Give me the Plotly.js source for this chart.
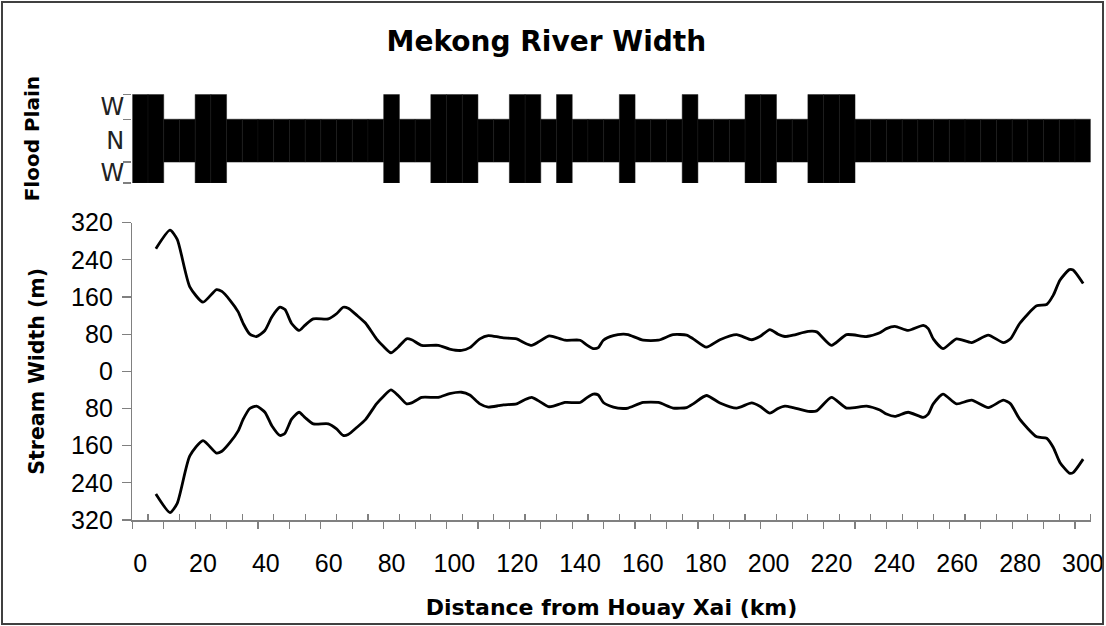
<!DOCTYPE html>
<html><head><meta charset="utf-8">
<script src="https://cdn.plot.ly/plotly-3.0.1.min.js"></script>
<style>
html,body{margin:0;padding:0;background:#fff;}
#wrap{position:relative;width:1106px;height:626px;}
#chart{width:1106px;height:626px;}
#frame{position:absolute;left:1px;top:1px;width:1099px;height:620px;border:2px solid #404040;pointer-events:none;}
</style>
</head><body>
<div id="wrap"><div id="chart"></div><div id="frame"></div></div>
<script>
// Stream width profile (m) along distance from Houay Xai (km)
const distanceKm = [5, 9.5, 11.8, 15.8, 20, 24.3, 26, 28.6, 31.2, 32.8, 34.9, 37, 39.7, 41.9, 44.5,
  46.1, 48.2, 50.6, 52.4, 55.1, 59.9, 62.5, 64.6, 66.2, 68.9, 71.7, 75.2, 77.4, 79.8, 82.1,
  84.8, 86.4, 89.6, 94.9, 98.5, 102.3, 104.9, 108.1, 110.8, 114, 115.6, 119.8, 122.4, 124.6, 126.7,
  129.9, 131.5, 135.2, 140, 142.1, 144.2, 145.8, 147.4, 150.6, 153.7, 155.3, 160.1, 164.9, 169.6, 173.9,
  176, 180.2, 184.5, 189.8, 194.6, 197.2, 200.4, 203, 205.2, 207.8, 212.6, 215.3, 220, 224.8, 231.2,
  235.4, 237.5, 240.2, 244.4, 249.2, 250.8, 252.4, 255.5, 259.8, 264.6, 269.9, 274.7, 277, 279.9, 285.3,
  288.5, 290.6, 292.7, 295.7, 296.9, 300.1];
const streamWidth = [264, 304, 284, 182, 149, 176, 172, 153, 128, 103, 80, 75, 88, 117, 138,
  133, 103, 88, 99, 113, 113, 124, 138, 136, 121, 104, 70, 54, 40, 52,
  70, 68, 56, 56, 48, 45, 51, 70, 77, 74, 72, 70, 61, 56, 63,
  76, 75, 67, 67, 57, 49, 51, 67, 77, 80, 79, 67, 67, 79, 78,
  70, 52, 68, 79, 68, 75, 90, 80, 75, 78, 86, 85, 56, 79, 75,
  83, 92, 97, 88, 99, 92, 70, 49, 70, 62, 78, 62, 70, 103, 141,
  144, 164, 196, 219, 218, 189];

// Flood plain class per 5-km reach: W = wide, N = narrow
const floodKm = [0, 5, 10, 15, 20, 25, 30, 35, 40, 45, 50, 55, 60, 65, 70, 75, 80, 85, 90, 95,
  100, 105, 110, 115, 120, 125, 130, 135, 140, 145, 150, 155, 160, 165, 170, 175, 180, 185, 190, 195,
  200, 205, 210, 215, 220, 225, 230, 235, 240, 245, 250, 255, 260, 265, 270, 275, 280, 285, 290, 295, 300];
const floodClass = ['W','W','N','N','W','W','N','N','N','N','N','N','N','N','N','N','W','N','N','W',
  'W','W','N','N','W','W','N','W','N','N','N','W','N','N','N','W','N','N','N','W',
  'W','N','N','W','W','W','N','N','N','N','N','N','N','N','N','N','N','N','N','N','N'];
const floodBandLabels = ['W', 'N', 'W'];

const xTickVals = [0, 20, 40, 60, 80, 100, 120, 140, 160, 180, 200, 220, 240, 260, 280, 300];
const xTickText = ['0','20','40','60','80','100','120','140','160','180','200','220','240','260','280','300'];
const yTickVals = [-320, -240, -160, -80, 0, 80, 160, 240, 320];
const yTickText = ['320','240','160','80','0','80','160','240','320'];

// ---- layout helpers (positions/styles) ----
const FONT = 'Liberation Sans, Arial, Helvetica, sans-serif';
const WIDE = 'DejaVu Sans, Verdana, sans-serif';
const W = 1106, H = 626;
const xDom = [132.3 / W, 1090.7 / W];
const mainDom = [(H - 520) / H, (H - 222.7) / H];
const stripDom = [(H - 183) / H, (H - 94.3) / H];
const xRange = [-2.5, 302.5];
const bandEdges = [0, 21, 64, 89];
const bandCenters = [10.5, 42.5, 76.5];
const majorTicks = [], minorTicks = [];
for (let v = -2.5; v <= 302.6; v += 10) majorTicks.push(v);
for (let v = 2.5; v <= 302.6; v += 10) minorTicks.push(v);

const floodTrace = {
  type: 'bar', x: floodKm, xaxis: 'x', yaxis: 'y2',
  y: floodClass.map(c => c === 'W' ? bandEdges[3] - bandEdges[0] : bandEdges[2] - bandEdges[1]),
  base: floodClass.map(c => c === 'W' ? bandEdges[0] : bandEdges[1]),
  width: 5,
  marker: {color: '#000000', line: {color: '#151515', width: 0.5}},
  hoverinfo: 'skip', showlegend: false
};
const upper = {
  type: 'scatter', mode: 'lines', x: distanceKm, y: streamWidth,
  xaxis: 'x', yaxis: 'y',
  line: {color: '#000', width: 2.8, shape: 'spline', smoothing: 0.6},
  showlegend: false
};
const lower = {
  type: 'scatter', mode: 'lines', x: distanceKm, y: streamWidth.map(v => -v),
  xaxis: 'x', yaxis: 'y',
  line: {color: '#000', width: 2.8, shape: 'spline', smoothing: 0.6},
  showlegend: false
};

const axisGray = '#808080';
const layout = {
  width: W, height: H,
  margin: {l: 0, r: 0, t: 0, b: 0, autoexpand: false},
  paper_bgcolor: '#fff', plot_bgcolor: 'rgba(0,0,0,0)',
  font: {family: FONT, color: '#000'},
  showlegend: false,
  bargap: 0,
  title: {text: '<b>Mekong River Width</b>', font: {family: WIDE, size: 28, color: '#000'},
    x: 0.494, xanchor: 'center', y: 1 - 41 / H, yanchor: 'middle', yref: 'container'},
  xaxis: {
    domain: xDom, range: xRange, anchor: 'y',
    tickmode: 'array', tickvals: xTickVals, ticktext: xTickText, ticks: '',
    tickfont: {family: FONT, size: 25, color: '#000'}, ticklabelstandoff: 20,
    showline: true, linecolor: axisGray, linewidth: 1.5, showgrid: false, zeroline: false,
    title: {text: '<b>Distance from Houay Xai (km)</b>', font: {family: WIDE, size: 22, color: '#000'}, standoff: 24}
  },
  xaxis3: {
    domain: xDom, range: xRange, anchor: 'y', overlaying: 'x',
    tickmode: 'array', tickvals: majorTicks, ticks: 'outside', ticklen: 8, tickwidth: 1.2, tickcolor: axisGray,
    showticklabels: false, showline: false, showgrid: false, zeroline: false,
    minor: {tickmode: 'array', tickvals: minorTicks, ticks: 'inside', ticklen: 6, tickwidth: 1.2, tickcolor: axisGray}
  },
  yaxis: {
    domain: mainDom, range: [-320, 320], anchor: 'x',
    tickmode: 'array', tickvals: yTickVals, ticktext: yTickText,
    ticks: 'outside', ticklen: 9, tickwidth: 1.2, tickcolor: axisGray,
    tickfont: {family: FONT, size: 25, color: '#000'}, ticklabelstandoff: 4,
    showline: true, linecolor: axisGray, linewidth: 1.5, showgrid: false, zeroline: false,
    title: {text: '<b>Stream Width (m)</b>', font: {family: WIDE, size: 20.5, color: '#000'}, standoff: 21}
  },
  yaxis2: {
    domain: stripDom, range: [bandEdges[0], bandEdges[3]], anchor: 'x',
    tickmode: 'array', tickvals: bandCenters, ticktext: floodBandLabels, ticks: '',
    tickfont: {family: WIDE, size: 24, color: '#222'}, ticklabelstandoff: 7,
    showline: false, showgrid: false, zeroline: false,
    title: {text: '<b>Flood Plain</b>', font: {family: WIDE, size: 20, color: '#000'}, standoff: 55}
  },
  yaxis3: {
    domain: stripDom, range: [bandEdges[0], bandEdges[3]], anchor: 'x', overlaying: 'y2',
    tickmode: 'array', tickvals: bandEdges, ticks: 'outside', ticklen: 8, tickwidth: 1.2, tickcolor: axisGray,
    showticklabels: false, showline: false, showgrid: false, zeroline: false
  }
};
const tickCarrier = {type: 'scatter', x: [], y: [], xaxis: 'x3', yaxis: 'y3', showlegend: false, hoverinfo: 'skip'};
Plotly.newPlot('chart', [floodTrace, upper, lower, tickCarrier], layout, {displayModeBar: false, staticPlot: true});
</script>
</body></html>
